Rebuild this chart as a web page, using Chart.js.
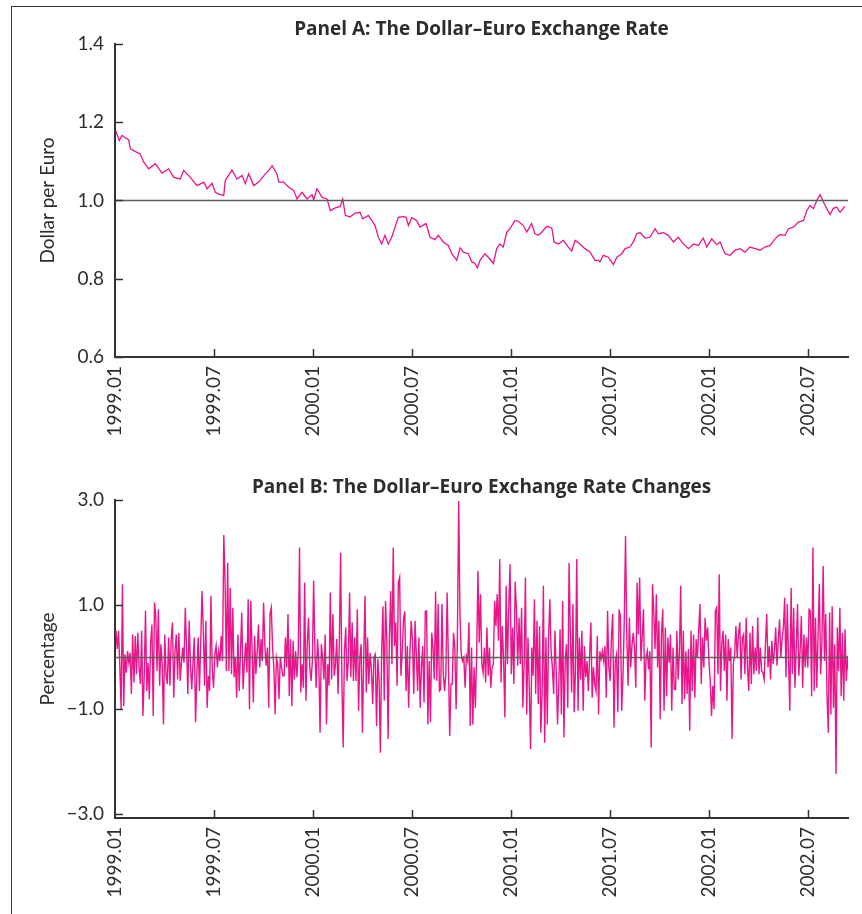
<!DOCTYPE html>
<html>
<head>
<meta charset="utf-8">
<script src="https://cdn.jsdelivr.net/npm/chart.js@4.4.1/dist/chart.umd.min.js"></script>
<style>
  body { margin: 0; background: #fff; }
  #wrap { position: relative; width: 862px; height: 914px; overflow: hidden; }
  #frame { position: absolute; left: 11px; top: 6px; right: -4px; bottom: -4px; border-left: 1.5px solid #333; border-top: 1.5px solid #333; }
  canvas { position: absolute; left: 0; }
</style>
</head>
<body>
<div id="wrap">
  <div id="frame"></div>
  <canvas id="panelA" width="862" height="450" style="top:0"></canvas>
  <canvas id="panelB" width="862" height="464" style="top:450px"></canvas>
</div>
<script>
// eixo do tempo em meses desde 1999.01
const tickMonths = [0, 6, 12, 18, 24, 30, 36, 42];
const tickLabels = ['1999.01', '1999.07', '2000.01', '2000.07', '2001.01', '2001.07', '2002.01', '2002.07'];

// Painel A: taxa dólar por euro
const monthsA = [0.06,0.26,0.42,0.83,0.93,1.33,1.53,1.74,2.04,2.44,2.85,3.25,3.56,3.96,4.16,4.56,4.97,5.38,5.58,5.88,
  6.08,6.38,6.59,6.68,7.09,7.39,7.70,7.90,8.10,8.41,8.71,9.11,9.32,9.52,9.82,9.92,10.22,10.53,10.83,11.03,
  11.33,11.64,11.94,12.04,12.24,12.55,12.85,13.05,13.35,13.65,13.80,13.96,14.24,14.55,14.85,15.01,15.35,15.56,15.76,15.96,
  16.16,16.36,16.56,16.77,16.97,17.17,17.47,17.64,17.78,17.98,18.28,18.48,18.85,19.09,19.39,19.59,19.90,20.20,20.41,20.71,
  20.91,21.11,21.41,21.62,21.82,21.96,22.12,22.42,22.62,22.93,23.13,23.33,23.53,23.74,23.94,24.24,24.44,24.75,24.95,25.25,
  25.45,25.65,25.86,26.16,26.47,26.61,26.87,27.17,27.47,27.68,27.88,28.18,28.48,28.79,29.09,29.29,29.39,29.59,29.90,30.20,
  30.41,30.71,30.91,31.21,31.41,31.62,31.82,32.12,32.42,32.73,32.93,33.23,33.53,33.84,34.14,34.44,34.75,35.05,35.35,35.65,
  35.86,36.16,36.47,36.67,36.97,37.27,37.58,37.88,38.18,38.48,38.79,39.09,39.39,39.70,40.00,40.30,40.61,40.81,41.11,41.41,
  41.72,41.92,42.12,42.32,42.53,42.73,42.93,43.13,43.33,43.53,43.74,43.94,44.24];
const rateA = [1.177,1.153,1.166,1.155,1.132,1.123,1.119,1.098,1.081,1.094,1.070,1.081,1.059,1.055,1.077,1.059,1.038,1.047,1.030,1.044,
  1.021,1.015,1.013,1.051,1.078,1.055,1.064,1.043,1.068,1.038,1.047,1.068,1.077,1.089,1.068,1.047,1.047,1.034,1.026,1.004,
  1.021,1.004,1.015,1.002,1.030,1.008,1.004,0.974,0.981,0.985,1.004,0.962,0.958,0.968,0.970,0.953,0.962,0.949,0.936,0.906,
  0.889,0.911,0.889,0.906,0.932,0.957,0.959,0.957,0.936,0.956,0.949,0.932,0.941,0.906,0.900,0.911,0.894,0.885,0.864,0.847,
  0.879,0.868,0.864,0.843,0.839,0.828,0.847,0.864,0.855,0.839,0.877,0.889,0.881,0.919,0.928,0.949,0.947,0.936,0.919,0.941,
  0.915,0.911,0.919,0.934,0.930,0.894,0.889,0.898,0.881,0.871,0.898,0.889,0.877,0.868,0.847,0.847,0.843,0.860,0.855,0.836,
  0.855,0.864,0.877,0.881,0.894,0.915,0.918,0.904,0.906,0.928,0.915,0.918,0.911,0.894,0.906,0.889,0.877,0.889,0.885,0.904,
  0.881,0.902,0.887,0.894,0.864,0.860,0.873,0.877,0.868,0.881,0.877,0.873,0.881,0.885,0.902,0.913,0.911,0.928,0.932,0.945,
  0.949,0.974,0.987,0.979,1.000,1.015,0.996,0.980,0.964,0.980,0.983,0.970,0.985];
const rateTicks = [0.6, 0.8, 1.0, 1.2, 1.4];

// Painel B: variação diária em % (dias úteis igualmente espaçados)
const pctChange = [
  0.50,0.15,0.50,-0.20,-1.00,1.39,-0.94,0.05,-0.30,0.11,-0.11,0.08,-0.71,0.43,-0.49,0.40,-0.33,0.46,-0.20,-0.52,
  0.50,-1.13,-0.36,0.88,-0.65,-0.11,-0.81,0.27,0.62,-1.13,1.04,0.78,-0.27,0.91,-0.55,0.24,-0.14,-1.29,0.43,-0.33,
  -0.52,0.37,-0.55,0.34,0.66,-0.78,0.11,0.43,-0.43,0.46,-0.46,-0.11,0.18,-0.11,0.94,0.15,-0.71,0.69,-0.14,-0.62,
  -0.11,0.37,-1.25,-0.36,0.37,-0.65,0.24,1.26,0.56,-0.55,0.69,-0.97,-0.36,-0.65,1.17,-0.24,-0.59,0.05,0.21,-0.20,
  0.11,-0.08,0.40,-0.08,2.33,1.42,-0.27,1.80,-0.27,1.32,-0.33,0.94,-0.39,-0.01,-0.78,0.43,-0.65,0.11,0.85,-0.62,
  -0.14,0.27,-0.30,1.10,-1.00,1.07,0.18,-0.87,0.40,-0.33,0.08,0.62,-0.20,0.34,-0.08,1.04,0.21,-0.17,0.18,-0.97,
  0.82,0.94,0.18,-0.20,-1.10,-0.01,-0.14,-0.81,-0.01,-0.20,-0.36,-0.36,0.37,-0.20,0.82,-0.75,0.34,-0.94,0.31,-0.43,
  0.11,-0.39,
  0.11,2.09,-0.68,-0.14,-0.59,1.42,-0.84,0.24,0.75,-0.20,-0.46,-0.08,1.46,0.11,-0.59,0.34,-0.08,-1.45,0.24,-0.01,
  -0.43,0.43,-1.29,-0.14,-0.55,1.23,-0.43,0.82,-0.36,-0.14,0.34,-0.71,0.24,1.99,-0.46,-1.73,0.11,0.56,-0.46,-0.08,
  1.23,-0.39,0.66,-0.46,0.37,-0.46,0.91,-1.03,-0.01,0.24,-1.45,-0.04,1.17,-0.68,0.37,-0.52,0.08,-0.24,-0.90,-0.01,
  0.05,-1.32,-0.04,-0.46,-1.83,0.11,0.97,-0.84,1.07,0.31,-1.57,0.34,1.26,-0.14,2.09,0.21,0.66,-0.55,1.42,1.52,
  -0.36,0.08,0.72,0.87,-0.65,0.21,-0.97,0.05,0.69,0.31,-0.71,0.69,0.05,-0.65,0.37,-0.97,-0.20,0.21,-0.87,0.87,
  0.88,-1.29,-0.08,-1.25,0.46,0.18,-0.43,1.25,-0.46,1.01,-0.65,-0.62,1.01,-0.33,-0.65,-0.33,1.23,-0.11,-1.51,-0.52,
  -0.52,0.46,0.18,-1.00,0.37,2.98,0.78,0.05,-0.08,-0.01,-0.59,0.02,-0.08,0.66,-1.32,0.18,-1.29,-0.20,-0.97,0.05,
  1.64,0.27,1.20,-0.14,-0.30,
  0.18,-0.49,0.56,-0.36,0.18,-0.59,-0.20,-0.14,1.07,0.59,1.20,0.31,1.87,-0.49,0.59,-0.08,-1.16,1.36,-0.14,0.94,
  1.77,-0.33,0.56,-0.52,1.44,0.91,-0.17,0.75,-0.14,0.94,-0.97,-0.14,1.52,-1.10,0.37,-0.59,-1.76,0.18,-0.36,1.10,
  -0.71,0.69,-0.90,0.59,-1.45,-0.71,1.36,-1.64,0.37,-1.29,0.34,1.10,0.11,-0.20,-0.71,0.50,-0.27,-1.29,-0.52,0.53,
  -1.10,1.07,-1.54,-0.08,0.24,-0.97,1.80,0.46,-0.68,1.01,-1.06,-0.27,1.87,-1.03,0.37,-0.43,0.50,-1.03,0.21,-0.39,
  -0.08,-0.65,0.02,0.66,-0.78,-0.20,-0.52,-0.65,0.40,-1.10,0.11,-0.04,0.11,-0.08,0.21,-0.78,0.88,-0.20,-0.46,0.37,
  0.82,-1.35,-0.08,0.05,-1.06,0.91,0.78,-1.03,-0.39,0.69,2.31,0.37,-0.55,0.75,-0.20,0.21,0.46,0.18,-0.59,1.42,
  0.43,1.52,-0.08,0.40,0.91,-0.84,-0.01,0.11,-0.24,0.11,-1.73,1.39,0.88,0.15,1.20,-0.20,0.69,-1.19,0.43,0.91,
  -1.03,0.56,-0.75,0.37,-0.11,0.43,-1.03,
  0.18,-0.62,-0.62,0.50,-0.43,0.11,1.36,-0.90,0.50,-0.81,0.11,-0.71,0.15,-1.41,0.50,-0.65,0.43,-0.78,0.34,-0.01,
  0.50,1.01,-0.52,0.37,-0.20,0.75,0.31,0.56,-0.08,-0.46,-1.13,-0.55,-1.00,0.88,0.94,-0.33,1.58,-0.65,0.24,0.50,
  -0.27,0.43,-0.84,0.34,-0.08,0.18,-1.57,-0.14,0.05,0.59,-0.01,0.43,0.66,-0.43,0.37,0.43,-0.33,0.75,-0.20,-0.65,
  0.46,-0.52,0.59,-0.33,0.18,-0.27,0.76,-0.33,0.18,-0.27,-0.30,-0.43,0.24,0.82,-0.20,0.21,-0.43,0.31,-0.14,0.11,
  0.56,-0.17,0.31,0.72,-0.01,0.34,0.56,1.13,-0.39,1.01,-0.04,-1.03,1.32,-0.33,0.94,-0.59,0.18,1.01,-0.36,0.11,
  0.78,-0.59,0.43,-0.20,0.37,-0.20,0.91,0.88,-0.75,2.09,-0.65,0.75,-0.59,0.43,1.40,-0.33,0.27,1.74,-0.08,0.82,
  -0.75,-1.45,0.85,-1.10,0.97,-0.97,0.24,-2.24,0.56,-0.27,0.94,-0.75,0.46,-0.84,0.53,-0.46,0.02,-0.33,0.40
];
const pctTicks = [3, 1, -1, -3];
const firstDay = 0.06, lastDay = 44.55; // meses do primeiro e último pregão

const pink = '#e8168a';
const ink = '#2d2d2d';
const tickFont = { family: 'Lato', size: 19 };

// marcas dos ticks para dentro, linha de referência e título do painel
const panelDecor = {
  id: 'panelDecor',
  afterDatasetsDraw(chart, args, opts) {
    const { ctx, chartArea: area, scales: { x, y } } = chart;
    ctx.save();
    ctx.strokeStyle = '#5e5e5e';
    ctx.lineWidth = 1.7;
    const ry = Math.round(y.getPixelForValue(opts.refValue)) + 0.5;
    ctx.beginPath();
    ctx.moveTo(area.left, ry);
    ctx.lineTo(area.right, ry);
    ctx.stroke();

    ctx.strokeStyle = '#333';
    ctx.lineWidth = 1.5;
    ctx.beginPath();
    y.ticks.forEach(t => {
      const py = Math.round(y.getPixelForValue(t.value)) + 0.5;
      ctx.moveTo(area.left, py);
      ctx.lineTo(area.left + 8, py);
    });
    x.ticks.forEach(t => {
      if (t.value === 0) return;
      const px = Math.round(x.getPixelForValue(t.value)) + 0.5;
      ctx.moveTo(px, area.bottom);
      ctx.lineTo(px, area.bottom - 8);
    });
    ctx.stroke();

    ctx.fillStyle = ink;
    ctx.font = 'bold 19px "Open Sans"';
    ctx.textAlign = 'center';
    ctx.textBaseline = 'middle';
    ctx.fillText(opts.title, (area.left + area.right) / 2, area.top - opts.titleGap);
    ctx.restore();
  }
};

function makePanel(id, points, yOpts, decor, padTop, xHeight, lineWidth) {
  return new Chart(document.getElementById(id), {
    type: 'line',
    data: {
      datasets: [{
        data: points,
        borderColor: pink,
        borderWidth: lineWidth,
        pointRadius: 0,
        tension: 0,
        fill: false
      }]
    },
    options: {
      responsive: false,
      animation: false,
      layout: { padding: { top: padTop, right: 14, left: 0, bottom: 0 } },
      plugins: { legend: { display: false }, tooltip: { enabled: false }, panelDecor: decor },
      scales: {
        x: {
          type: 'linear',
          min: 0,
          max: 44.42,
          afterBuildTicks: s => { s.ticks = tickMonths.map(v => ({ value: v })); },
          afterFit: s => { s.height = xHeight; },
          ticks: {
            autoSkip: false,
            minRotation: 90,
            maxRotation: 90,
            padding: 9,
            color: ink,
            font: tickFont,
            callback: (v, i) => tickLabels[i]
          },
          grid: { display: false, drawTicks: false },
          border: { display: true, color: '#333', width: 2 }
        },
        y: Object.assign({
          afterFit: s => { s.width = 115; },
          grid: { display: false, drawTicks: false },
          border: { display: true, color: '#333', width: 2 }
        }, yOpts)
      }
    },
    plugins: [panelDecor]
  });
}

// Painel A
const pointsA = monthsA.map((m, i) => ({ x: m, y: rateA[i] }));
makePanel('panelA', pointsA, {
  min: 0.6,
  max: 1.4,
  afterBuildTicks: s => { s.ticks = rateTicks.map(v => ({ value: v })); },
  ticks: { padding: 11, color: ink, font: tickFont, callback: v => v.toFixed(1) },
  title: { display: true, text: 'Dollar per Euro', color: ink, font: { family: 'Lato', size: 19 }, padding: { top: 36, bottom: 0 } }
}, { refValue: 1.0, title: 'Panel A: The Dollar\u2013Euro Exchange Rate', titleGap: 14 }, 44, 93, 1.3);

// Painel B
const dayStep = (lastDay - firstDay) / (pctChange.length - 1);
const pointsB = pctChange.map((v, i) => ({ x: firstDay + i * dayStep, y: v }));
makePanel('panelB', pointsB, {
  min: -3.08,
  max: 3.0,
  afterBuildTicks: s => { s.ticks = pctTicks.map(v => ({ value: v })); },
  ticks: { padding: 11, color: ink, font: tickFont, callback: v => (v < 0 ? '\u2212' : '') + Math.abs(v).toFixed(1) },
  title: { display: true, text: 'Percentage', color: ink, font: { family: 'Lato', size: 19 }, padding: { top: 36, bottom: 0 } }
}, { refValue: 0, title: 'Panel B: The Dollar\u2013Euro Exchange Rate Changes', titleGap: 12 }, 50, 96, 1.4);
</script>
</body>
</html>
